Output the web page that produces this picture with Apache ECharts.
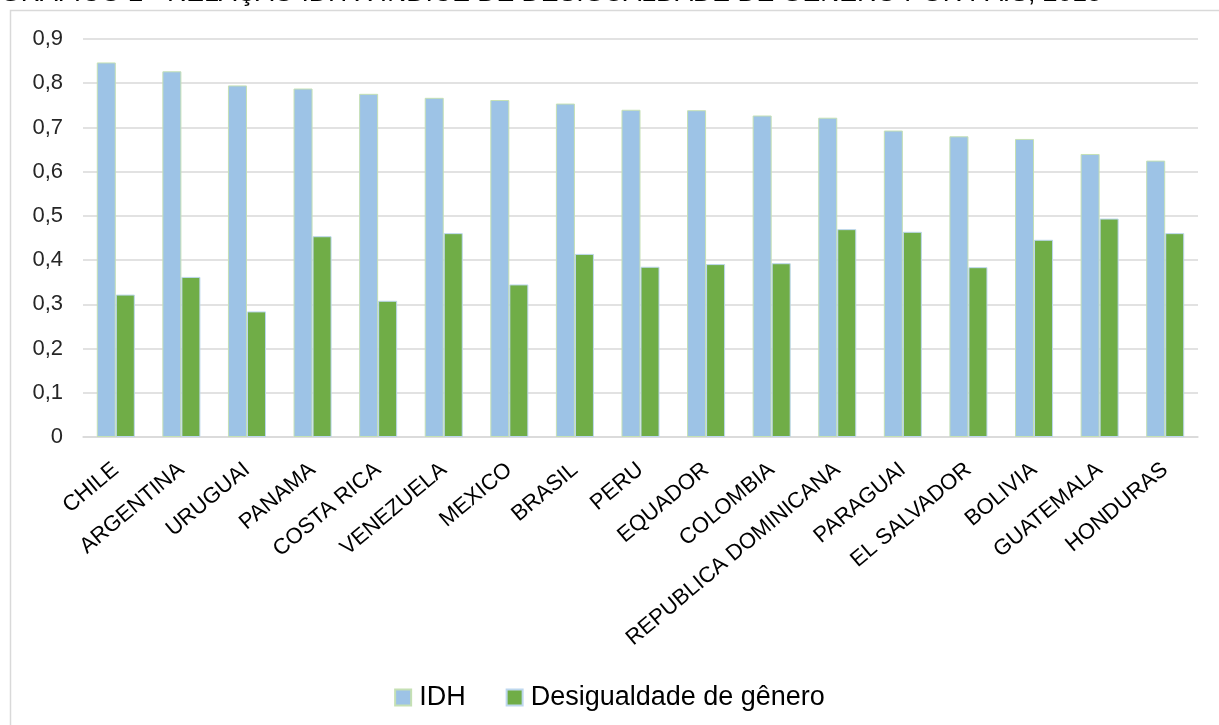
<!DOCTYPE html>
<html>
<head>
<meta charset="utf-8">
<script src="https://cdn.jsdelivr.net/npm/echarts@6/dist/echarts.min.js"></script>
<style>
  html, body { margin: 0; padding: 0; background: #ffffff; }
  #chart { width: 1219px; height: 725px; }
</style>
</head>
<body>
<div id="chart"></div>
<script>
// Países (ordenados por IDH)
const countries = ['CHILE', 'ARGENTINA', 'URUGUAI', 'PANAMA', 'COSTA RICA', 'VENEZUELA', 'MEXICO', 'BRASIL', 'PERU', 'EQUADOR', 'COLOMBIA', 'REPUBLICA DOMINICANA', 'PARAGUAI', 'EL SALVADOR', 'BOLIVIA', 'GUATEMALA', 'HONDURAS'];

// Índice de Desenvolvimento Humano
const idh = [0.847, 0.827, 0.795, 0.788, 0.776, 0.767, 0.762, 0.754, 0.740, 0.739, 0.727, 0.722, 0.693, 0.680, 0.674, 0.640, 0.625];

// Índice de Desigualdade de Gênero
const desigualdade = [0.322, 0.362, 0.284, 0.454, 0.308, 0.461, 0.345, 0.414, 0.385, 0.391, 0.393, 0.470, 0.464, 0.384, 0.446, 0.494, 0.461];

const seriesNames = ['IDH', 'Desigualdade de gênero'];
const titleText = 'GRÁFICO 2 - RELAÇÃO IDH X ÍNDICE DE DESIGUALDADE DE GÊNERO POR PAÍS, 2015';

const FONT = '"Liberation Sans", Arial, sans-serif';

const chart = echarts.init(document.getElementById('chart'), null, { renderer: 'canvas' });

chart.setOption({
  animation: false,
  backgroundColor: '#ffffff',
  graphic: [
    {
      type: 'text',
      left: 0,
      top: -20,
      style: { text: titleText, font: '26.6px ' + FONT, fill: '#000000' }
    },
    {
      type: 'rect',
      shape: { x: 10.5, y: 10.5, width: 1300, height: 800 },
      style: { fill: null, stroke: '#d9d9d9', lineWidth: 1.5 },
      silent: true
    }
  ],
  grid: { left: 83, right: 21, top: 39, bottom: 288, containLabel: false },
  legend: {
    data: seriesNames,
    bottom: 9,
    left: 'center',
    icon: 'rect',
    itemWidth: 16,
    itemHeight: 16,
    itemGap: 40,
    textStyle: { fontFamily: FONT, fontSize: 27, color: '#000000', padding: [0, 0, 0, 3] }
  },
  xAxis: {
    type: 'category',
    data: countries,
    axisLine: { lineStyle: { color: '#d9d9d9', width: 1.5 } },
    axisTick: { show: false },
    axisLabel: {
      interval: 0,
      rotate: 40,
      margin: 30,
      padding: [22, 0, 0, 0],
      fontFamily: FONT,
      fontSize: 22,
      color: '#000000'
    }
  },
  yAxis: {
    type: 'value',
    min: 0,
    max: 0.9,
    interval: 0.1,
    axisLine: { show: false },
    axisTick: { show: false },
    splitLine: { lineStyle: { color: '#d9d9d9', width: 1.5 } },
    axisLabel: {
      margin: 20,
      fontFamily: FONT,
      fontSize: 22,
      color: '#262626',
      formatter: v => (v === 0 ? '0' : v.toFixed(1).replace('.', ','))
    }
  },
  series: [
    {
      name: seriesNames[0],
      type: 'bar',
      data: idh,
      barGap: '0%',
      barCategoryGap: '42%',
      itemStyle: { color: '#9DC3E6', borderColor: '#C5E0B4', borderWidth: 1 }
    },
    {
      name: seriesNames[1],
      type: 'bar',
      data: desigualdade,
      itemStyle: { color: '#70AD47', borderColor: '#BDD7EE', borderWidth: 1 }
    }
  ]
});
</script>
</body>
</html>
